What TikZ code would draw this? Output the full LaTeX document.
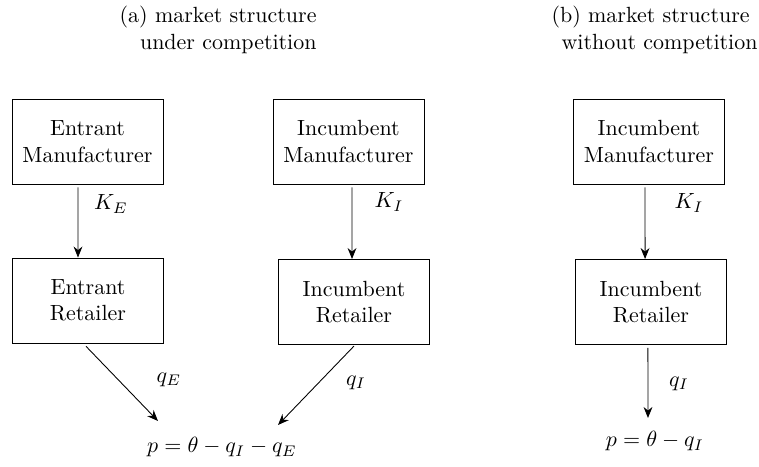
\documentclass[tikz,border=0pt]{standalone}
\usepackage{amsmath}
\usepackage{amssymb}
\usepackage{tikz}
\usetikzlibrary{arrows.meta}

\begin{document}
\begin{tikzpicture}[x=0.455pt,y=-0.455pt,
  firm/.style={draw,align=center,minimum width=68.7pt,minimum height=38.7pt},
  flow/.style={-{Stealth[length=5pt,width=4pt]}},
  title/.style={align=right,anchor=north east,inner sep=0pt}]
  \useasboundingbox (0,0) rectangle (759,467);
  \node[title] (titleA) at (317,6) {(a) market structure\\under competition};
  \node[title] (titleB) at (758,6) {(b) market structure\hspace*{3.6pt}\\without competition};
  \node[firm] (entMan) at (87.5,141.5) {Entrant\\Manufacturer};
  \node[firm] (incManA) at (348.5,141.5) {Incumbent\\Manufacturer};
  \node[firm] (entRet) at (88,300.5) {Entrant\\Retailer};
  \node[firm] (incRetA) at (354,302) {Incumbent\\Retailer};
  \node[firm] (incManB) at (649,141.5) {Incumbent\\Manufacturer};
  \node[firm] (incRetB) at (651,302) {Incumbent\\Retailer};
  \node[anchor=base] (priceA) at (222,453) {$p=\theta-q_I-q_E$};
  \node[anchor=base] (priceB) at (655,447) {$p=\theta-q_I$};
  \coordinate (priceAleft) at (158,421);
  \coordinate (priceAright) at (278,425);
  \coordinate (priceBtop) at (648,418);
  \draw[flow] ([xshift=-4.3pt,yshift=-1.3pt]entMan.south) -- ([xshift=-4.55pt]entRet.north);
  \draw[flow] ([xshift=1.6pt,yshift=-1.3pt]incManA.south) -- ([xshift=-0.9pt]incRetA.north);
  \draw[flow] ([xshift=-1.8pt,yshift=-1.3pt]incManB.south) -- ([xshift=-2.7pt]incRetB.north);
  \draw[flow] ([xshift=-0.9pt,yshift=-1.3pt]entRet.south) -- (priceAleft);
  \draw[flow] ([yshift=-0.5pt]incRetA.south) -- (priceAright);
  \draw[flow] ([xshift=-1.4pt,yshift=-1.3pt]incRetB.south) -- (priceBtop);
  \node (kE) at (111,204) {$K_E$};
  \node (kIA) at (389,202) {$K_I$};
  \node (kIB) at (689,203) {$K_I$};
  \node (qE) at (169,380) {$q_E$};
  \node (qIA) at (356,383) {$q_I$};
  \node (qIB) at (679,384) {$q_I$};
\end{tikzpicture}
\end{document}
